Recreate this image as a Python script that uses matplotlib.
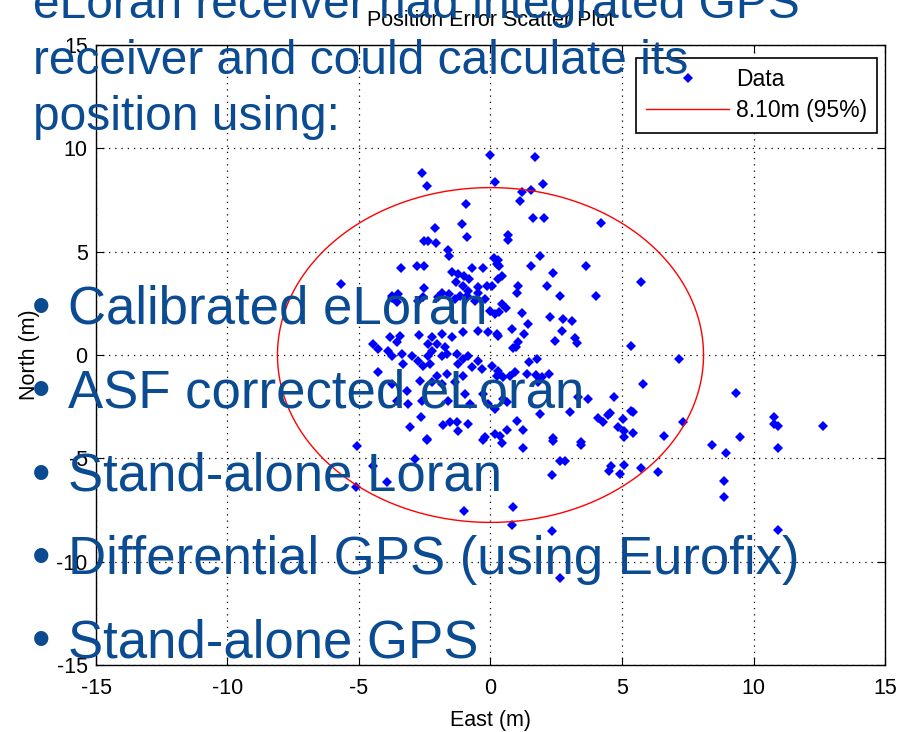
import numpy as np
import matplotlib
matplotlib.use("Agg")
import matplotlib.pyplot as plt

plt.rcParams['font.family'] = ['Liberation Sans', 'DejaVu Sans']
plt.rcParams['axes.unicode_minus'] = False

# position errors (metres)
east = [-0.03, 1.69, -2.62, -2.40, 0.16, 1.98, 1.18, 1.53, 1.11, -0.95, 1.60, 2.04, 4.22, -2.12, -1.08,
        -0.89, 0.65, 0.65, -2.52, -2.37, -2.06, -1.63, -1.57, 1.87, -3.42, -2.81, -2.52, -0.72, -0.27,
        0.15, 0.23, 0.29, 0.33, 1.53, 3.65, -5.69, -2.52, -1.46, -1.23, -1.00, -1.33, -0.83, -1.04,
        -0.47, -0.15, 0.04, 0.29, 0.42, 2.36, 1.05, 0.99, 2.16, 5.74, 2.64, 4.00, -3.76, -3.51, -1.86,
        -1.58, -1.17, -0.85, -0.47,
        -3.76, -3.57, -2.75, -2.56, -1.99, -1.36, -0.91, -0.60, -0.22, -0.03, 0.16, 0.42, 0.58, 0.33,
        1.18, 2.28, 2.76, 3.08, 1.41, 0.80, 1.27, 2.73, 2.44, 3.21, 3.27, 1.05, 0.96, 0.86, 0.29, 5.34,
        7.17, 1.47, 1.75,
        -2.73, -2.24, -1.86, -1.48, -1.04, -0.47, -0.09, 0.23,
        -4.46, -4.27, -3.83, -3.57, -3.45, -3.89, -3.76, -3.38, -3.00,
        -2.37, -2.24, -2.05, -1.74, -1.67, -1.86, -2.37,
        -1.29, -1.04, -0.85, -0.47, -0.72, -0.34, 0.04, 0.29,
        -4.27, -3.32, -2.75, -2.56, -2.31, -2.05, -1.67, -1.23, -1.04, -1.36,
        0.33, 0.48, 0.73, 0.92, 1.37, 1.72, 1.94, 2.23, 1.81, 5.81,
        -3.76, -3.19, -2.69, -2.24, -1.86, -1.61, -0.98, -0.79, -0.28, -0.09, 0.16, 0.23,
        -3.57, -3.13, -2.62, -2.65, -3.07, -2.43, -1.55, -1.23, -0.85, -0.22, 0.16, -1.81, -1.29,
        0.48, 0.61, 1.90, 3.04, 3.33, 3.71, 4.69, 5.36, 5.43, 4.54, 4.10, 4.26, 4.48, 5.04, 4.86, 5.08,
        1.01, 1.24, 0.61, 0.38, 2.36, 6.59, 7.33, 5.43, 5.07, 3.46,
        9.34, 8.44, 8.94, 9.48, 10.77, 10.77, 10.94, 10.94, 12.65, 8.87, 8.87, 10.94,
        4.57, 4.50, 5.07, 4.92, 5.74, 6.38,
        -5.08, -2.43, -0.28, 0.44, 1.24, 2.38, 3.46, -2.88, -4.46, 2.64, 2.83, 2.35, -3.92, -5.10,
        -1.00, 0.86, 0.80, 2.35, 2.64]
north = [9.67, 9.56, 8.79, 8.19, 8.35, 8.27, 7.91, 7.98, 7.46, 7.29, 6.65, 6.65, 6.41, 6.14, 6.32,
         5.71, 5.82, 5.56, 5.53, 5.53, 5.43, 5.09, 4.80, 4.80, 4.22, 4.30, 4.30, 4.22, 4.22,
         4.69, 4.40, 4.61, 4.32, 4.32, 4.32, 3.43, 3.26, 4.03, 3.92, 3.83, 3.54, 3.67, 3.35,
         3.27, 3.35, 3.35, 3.67, 3.80, 3.95, 3.35, 3.00, 3.35, 3.51, 2.87, 2.87, 2.87, 2.95, 3.00,
         2.95, 2.87, 3.11, 3.00,
         2.76, 2.55, 2.60, 2.79, 2.79, 2.71, 2.87, 2.63, 2.71, 2.14, 1.98, 2.47, 2.27, 2.06,
         2.03, 1.82, 1.74, 1.66, 1.50, 1.26, 1.02, 1.14, 0.69, 0.81, 0.58, 0.61, 0.37, 0.32, 0.93, 0.42,
         -0.19, -0.35, -0.19,
         0.98, 0.85, 1.02, 0.85, 1.10, 1.18, 1.10, 1.02,
         0.53, 0.29, 0.85, 0.61, 0.93, 0.21, -0.03, 0.05, -0.03,
         0.53, 0.21, 0.53, 0.37, 0.05, -0.03, -0.03,
         0.05, -0.19, -0.03, -0.28, -0.60, -0.68, -0.52, -0.76,
         -0.84, -0.44, -0.28, -0.52, -0.44, -1.00, -0.92, -0.44, -1.00, -1.32,
         -0.92, -1.08, -1.00, -0.84, -0.92, -0.97, -1.05, -0.92, -1.32, -1.40,
         -1.40, -1.73, -1.24, -1.32, -1.40, -2.21, -1.89, -2.37, -1.89, -2.37, -2.61, -1.00,
         -2.21, -2.37, -2.21, -3.02, -3.50, -4.06, -3.26, -3.66, -3.34, -3.98, -3.82, -3.37, -3.26,
         -2.13, -2.29, -2.85, -2.77, -2.05, -2.13, -2.05, -2.69, -2.77, -2.82, -3.05, -3.26, -2.89,
         -3.09, -3.47, -3.66,
         -3.17, -3.63, -3.63, -3.90, -4.01, -3.90, -3.26, -3.79, -3.98, -4.22,
         -1.86, -4.34, -4.75, -3.98, -3.02, -3.34, -3.45, -4.51, -3.45, -6.08, -6.88, -8.46,
         -5.35, -5.59, -5.32, -5.75, -5.48, -5.64,
         -4.42, -4.11, -4.11, -4.26, -4.51, -4.14, -4.35, -5.03, -5.35, -5.11, -5.11, -5.80, -6.16, -6.37,
         -7.56, -7.34, -8.22, -8.54, -10.8]

radius95 = 8.10
ticks = [-15, -10, -5, 0, 5, 10, 15]

header = ["eLoran receiver had integrated GPS",
          "receiver and could calculate its",
          "position using:"]
bullets = ["Calibrated eLoran",
           "ASF corrected eLoran",
           "Stand-alone Loran",
           "Differential GPS (using Eurofix)",
           "Stand-alone GPS"]

fs = 15.5
fig = plt.figure(figsize=(9.09, 7.32), dpi=100)
ax = fig.add_axes([96/909, 67/732, 789/909, 620/732])

ax.plot(east, north, 'D', color='blue', markersize=5.4, markeredgewidth=0,
        linestyle='none', label='Data')
t = np.linspace(0, 2*np.pi, 400)
ax.plot(radius95*np.cos(t), radius95*np.sin(t), color='red', linewidth=1,
        label='%.2fm (95%%)' % radius95)

ax.set_xlim(-15, 15)
ax.set_ylim(-15, 15)
ax.set_xticks(ticks)
ax.set_yticks(ticks)
ax.grid(True, color='black', linestyle=(0, (1, 4)), linewidth=0.9)
ax.tick_params(direction='in', length=6, top=True, right=True, labelsize=fs)
ax.tick_params(axis='x', pad=9)
ax.tick_params(axis='y', pad=6)
for s in ax.spines.values():
    s.set_linewidth(1)
ax.set_xlabel('East (m)', fontsize=fs, labelpad=8)
ax.set_ylabel('North (m)', fontsize=fs, labelpad=12)
ax.set_title('Position Error Scatter Plot', fontsize=fs, pad=14)

leg = ax.legend(loc='upper right', bbox_to_anchor=(0.990, 0.979), fontsize=16.5,
                fancybox=False, edgecolor='black', framealpha=1, handlelength=3.6,
                handletextpad=0.3, borderaxespad=0, labelspacing=0.35, borderpad=0.45)
leg.get_frame().set_linewidth(1.2)

blue = '#0b4b92'
for i, line in enumerate(header):
    fig.text(33/909, 1 - (5 + 56*i)/732, line, fontsize=34.5, color=blue,
             va='center', ha='left', zorder=5)
for i, line in enumerate(bullets):
    y = 1 - (310 + 83.3*i)/732
    fig.text(32/909, y, u'\u2022', fontsize=38, color=blue, va='center', ha='left', zorder=5)
    fig.text(68/909, y, line, fontsize=38, color=blue, va='center', ha='left', zorder=5)

fig.savefig('out.png', dpi=100)
